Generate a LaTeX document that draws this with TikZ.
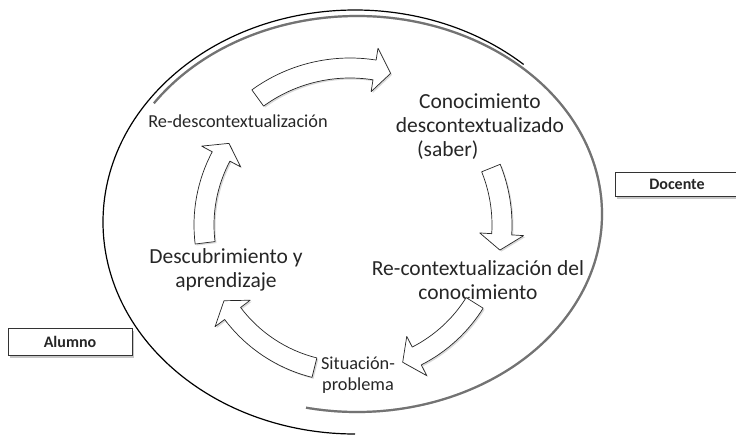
\documentclass[tikz,border=0pt]{standalone}
\usepackage{fontspec}
\setmainfont{Carlito}
\usetikzlibrary{shadows}

\begin{document}
\begin{tikzpicture}[
  x=1pt, y=-1pt,
  font=\fontsize{18.3}{20.5}\selectfont,
  lbl/.style={align=center, inner sep=0pt, text=black!85},
  big/.style={font=\fontsize{21.5}{23.5}\selectfont},
  rolebox/.style={draw=black!80, line width=0.6pt, fill=white, inner sep=0pt,
             font=\fontsize{16}{19}\selectfont\bfseries, text=black!85,
             drop shadow={shadow xshift=2pt, shadow yshift=-2.5pt, opacity=0.45}},
  barrow/.style={draw=black!85, line width=0.7pt, fill=white, line join=round,
             drop shadow={shadow xshift=1.5pt, shadow yshift=-1.5pt, opacity=0.3}},
  rim/.style={draw=black, line width=1.2pt},
  halo/.style={draw=black!55, line width=2.2pt}
]
\useasboundingbox (0,0) rectangle (736,437);

% outer arcs
\coordinate (out) at (355,222);
\coordinate (inn) at (357,214);
\draw[rim] (out) ++(-48:252 and 212) arc[start angle=-48, end angle=-270, x radius=252, y radius=212];
\draw[draw=black!20, line width=2.2pt, shift={(1.2,2.4)}] (inn) ++(-146:245 and 198)
  arc[start angle=-146, end angle=102, x radius=245, y radius=198];
\draw[halo] (inn) ++(-146:245 and 198) arc[start angle=-146, end angle=102, x radius=245, y radius=198];

% cycle steps
\node[lbl] (rd) at (238,121) {Re-descontextualización};
\node[lbl, big, font=\fontsize{21.5}{24}\selectfont] (cd) at (480,127) {Conocimiento\\descontextualizado\\(saber)\hspace*{3em}};
\node[lbl, big] (rc) at (478,280) {Re-contextualización del\\conocimiento};
\node[lbl] (sp) at (358,375) {Situación-\\problema};
\node[lbl, big] (da) at (226,270) {Descubrimiento y\\aprendizaje};

% roles
\node[rolebox, minimum width=124, minimum height=24] (doc) at (677,184) {Docente};
\node[rolebox, minimum width=124, minimum height=27] (alu) at (70,341.5) {Alumno};

% block arrows between the steps
\coordinate (cyc) at (350,225);
\foreach \a/\b/\r in {-126/-75/157, -22/9.5/152, 32/69/147, 104/149/147, 173/214/146}
  \draw[barrow, shift={(cyc)}] ({\a}:{\r+10}) arc[start angle=\a, end angle=\b-6, radius=\r+10]
    -- ({\b-6}:{\r+22}) -- ({\b}:{\r}) -- ({\b-6}:{\r-22}) -- ({\b-6}:{\r-10})
    arc[start angle=\b-6, end angle=\a, radius=\r-10] -- cycle;
\end{tikzpicture}
\end{document}
